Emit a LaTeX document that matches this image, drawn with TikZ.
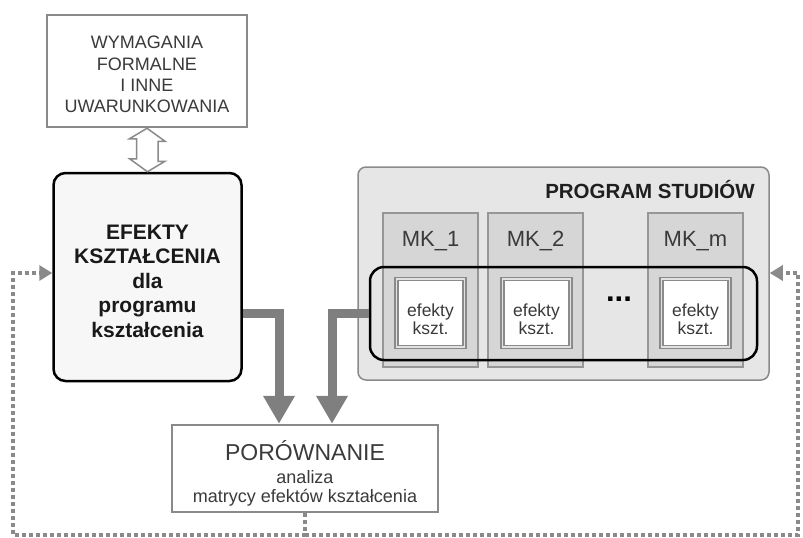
\documentclass[tikz,border=0pt]{standalone}
\usepackage{fontspec}
\setmainfont{Liberation Sans}
\usetikzlibrary{arrows.meta,calc}
\definecolor{edgegray}{HTML}{8A8A8A}
\definecolor{flowgray}{HTML}{7F7F7F}
\definecolor{panelgray}{HTML}{E6E6E6}
\definecolor{colgray}{HTML}{D6D6D6}
\definecolor{txtgray}{HTML}{3A3A3A}

\begin{document}
\begin{tikzpicture}[x=1pt,y=-1pt,
  plainbox/.style={draw=edgegray, line width=2.5pt, fill=white, inner sep=0pt},
  boxtext/.style={align=center, inner sep=0pt},
  mkcolumn/.style={draw=edgegray!90, line width=2.5pt, fill=colgray, minimum width=95pt, minimum height=154pt, inner sep=0pt},
  mklabel/.style={text=txtgray, font=\fontsize{22}{22}\selectfont},
  effbox/.style={draw=edgegray, line width=1.6pt, double=colgray!70, double distance=1.1pt, fill=white, minimum width=68pt, minimum height=68pt, inner sep=0pt},
  efftext/.style={boxtext, text=txtgray, font=\fontsize{17.5}{18}\selectfont},
  flow/.style={draw=flowgray, line width=9pt, line join=miter, -{Triangle[width=30pt,length=28pt]}},
  feedback/.style={draw=edgegray, line width=3.5pt, dash pattern=on 4pt off 3pt, -{Triangle[width=15pt,length=13pt]}},
  hollowarrow/.style={draw=edgegray, line width=1.5pt, fill=white, line join=miter}
]
\useasboundingbox (0,0) rectangle (803,538);

% requirements box
\node[plainbox, minimum width=200pt, minimum height=112pt] (wym) at (147,71) {};
\node[boxtext, text=txtgray, font=\fontsize{18}{21.3}\selectfont] (wymtext) at (147,74.5)
  {WYMAGANIA\\FORMALNE\\I INNE\\UWARUNKOWANIA};

% learning outcomes of the programme
\node[draw=black, line width=2.5pt, rounded corners=12pt, fill=black!3,
      minimum width=188pt, minimum height=208pt, inner sep=0pt] (efk) at (147.5,277) {};
\node[boxtext, text=black!90, font=\fontsize{21}{24.5}\selectfont\bfseries] (efktext) at (147.5,281)
  {EFEKTY\\KSZTAŁCENIA\\dla\\programu\\kształcenia};

% hollow two-way arrow between the two boxes
\draw[hollowarrow] (wym.south) -- ++(18,13) -- ++(-7,0) -- ++(0,20) -- ++(7,0)
  -- (efk.north) -- ++(-18,-13) -- ++(7,0) -- ++(0,-20) -- ++(-7,0) -- cycle;

% study programme panel
\node[draw=edgegray, line width=1.5pt, rounded corners=8pt, fill=panelgray,
      minimum width=411pt, minimum height=213pt, inner sep=0pt] (prog) at (563.5,273.5) {};
\node[anchor=east, inner sep=0pt, text=black!88, font=\fontsize{20.5}{21}\selectfont\bfseries] (progtitle)
  at (755,190) {PROGRAM STUDIÓW};

% module columns
\node[mkcolumn] (mk1) at (430.5,290) {};
\node[mkcolumn] (mk2) at (535.5,290) {};
\node[mkcolumn] (mkm) at (695.5,290) {};
\node[mklabel] (mklab1) at (430.5,241) {MK\_1};
\node[mklabel] (mklab2) at (535.5,241) {MK\_2};
\node[mklabel] (mklabm) at (695.5,241) {MK\_m};

% grouping of the module outcomes
\node[draw=black, line width=2.5pt, rounded corners=14pt,
      minimum width=387pt, minimum height=93pt, inner sep=0pt] (sel) at (563.5,313.5) {};

\node[effbox] (ef1) at (430.5,313) {};
\node[effbox] (ef2) at (536.5,313) {};
\node[effbox] (efm) at (695.5,313) {};
\node[efftext] (eft1) at (430.5,319) {efekty\\kszt.};
\node[efftext] (eft2) at (536.5,319) {efekty\\kszt.};
\node[efftext] (eftm) at (695.5,319) {efekty\\kszt.};
\node[text=black, font=\fontsize{31}{31}\selectfont\bfseries] (dots) at (619,299) {...};

% comparison box
\node[plainbox, minimum width=266pt, minimum height=87pt] (por) at (305,468.5) {};
\node[text=txtgray, font=\fontsize{23}{23}\selectfont] (por1) at (305,451) {PORÓWNANIE};
\node[text=txtgray, font=\fontsize{18}{18}\selectfont] (por2) at (305,477) {analiza};
\node[text=txtgray, font=\fontsize{18}{18}\selectfont] (por3) at (305,498) {matrycy efektów kształcenia};

% thick flows into the comparison
\coordinate (e1) at (279,313);
\coordinate (e2) at (332,313);
\draw[flow] (efk.east |- e1) -- (e1) -- (e1 |- por.north);
\draw[flow] (sel.west |- e2) -- (e2) -- (e2 |- por.north);

% dotted feedback loops
\coordinate (fbL) at (13,535);
\coordinate (fbR) at (798,535);
\coordinate (fbTL) at (13,273);
\coordinate (fbTR) at (798,273);
\draw[feedback] (por.south) -- (por.south |- fbL) -- (fbL) -- (fbTL) -- (efk.west |- fbTL);
\draw[feedback] (por.south |- fbR) -- (fbR) -- (fbTR) -- (prog.east |- fbTR);
\end{tikzpicture}
\end{document}
